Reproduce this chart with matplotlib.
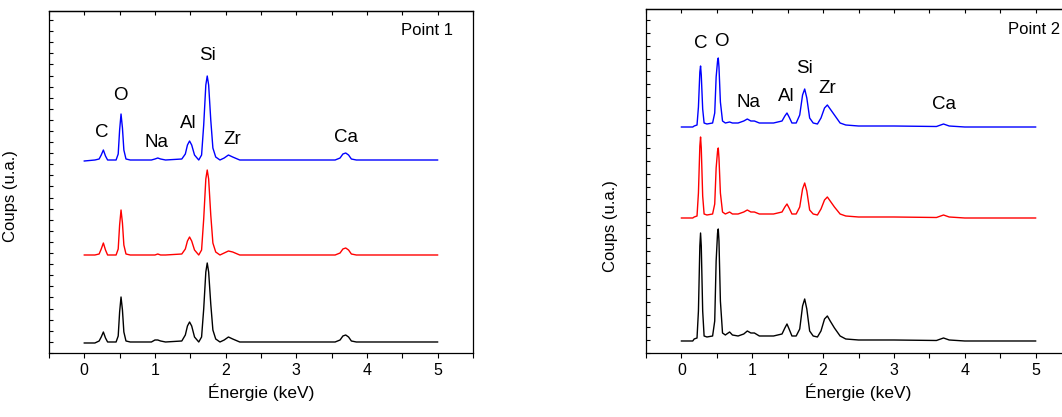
import matplotlib
matplotlib.use("Agg")
import matplotlib.pyplot as plt
from matplotlib.ticker import MultipleLocator, NullFormatter

plt.rcParams['font.family'] = ['Liberation Sans', 'DejaVu Sans']

# ---- Point 1 spectra (energy in keV, counts in arbitrary units above baseline)
e1 = [0.00, 0.15, 0.21, 0.24, 0.27, 0.30, 0.33, 0.45, 0.48, 0.50, 0.52, 0.54,
      0.56, 0.59, 0.65, 0.95, 1.00, 1.04, 1.08, 1.15, 1.38, 1.43, 1.46, 1.49,
      1.52, 1.56, 1.62, 1.66, 1.69, 1.72, 1.74, 1.76, 1.79, 1.82, 1.86, 1.92,
      1.98, 2.04, 2.10, 2.20, 3.55, 3.62, 3.66, 3.70, 3.74, 3.78, 3.85, 5.00]
p1_blue = [-1, 0, 1, 5, 10, 4, 0, 0, 6, 30, 46, 32,
           10, 1, 0, 0, 1, 2, 1, 0, 1, 6, 15, 19,
           15, 5, 0, 5, 35, 75, 84, 75, 40, 12, 3, 0,
           2, 5, 3, 0, 0, 2, 6, 7, 5, 1, 0, 0]
p1_red = [0, 0, 1, 6, 12, 5, 0, 0, 6, 30, 45, 32,
          10, 1, 0, 0, 0, 1, 0, 0, 1, 6, 14, 18,
          14, 5, 0, 5, 36, 76, 85, 76, 40, 12, 3, 0,
          2, 4, 3, 0, 0, 2, 6, 7, 5, 1, 0, 0]
p1_black = [-1, -1, 1, 5, 10, 4, 0, 0, 6, 30, 45, 32,
            10, 1, 0, 0, 2, 2, 1, 0, 1, 7, 16, 20,
            16, 5, 0, 5, 33, 70, 79, 70, 38, 12, 3, 0,
            2, 5, 3, 0, 0, 2, 6, 7, 5, 1, 0, 0]
p1_offsets = {'blue': 193, 'red': 98, 'black': 11}

# ---- Point 2 spectra
e2 = [0.00, 0.16, 0.18, 0.22, 0.24, 0.26, 0.27, 0.28, 0.30, 0.32, 0.36, 0.44,
      0.47, 0.49, 0.51, 0.52, 0.53, 0.55, 0.58, 0.62, 0.68, 0.72, 0.80, 0.88,
      0.93, 0.98, 1.03, 1.10, 1.30, 1.42, 1.46, 1.49, 1.52, 1.56, 1.62, 1.67,
      1.71, 1.74, 1.77, 1.81, 1.86, 1.92, 1.97, 2.02, 2.06, 2.10, 2.16, 2.24,
      2.32, 2.50, 3.00, 3.60, 3.70, 3.78, 4.00, 5.00]
p2_blue = [0, 0, 1, 2, 20, 55, 61, 52, 18, 4, 3, 4,
           14, 50, 66, 69, 60, 25, 6, 4, 5, 4, 4, 6,
           8, 6, 6, 4, 4, 6, 11, 14, 10, 4, 4, 12,
           32, 38, 29, 9, 4, 3, 9, 19, 22, 18, 12, 4,
           2, 1, 1, 0.5, 3, 1, 0, 0]
p2_red = [0, 0, 1, 2, 25, 72, 81, 70, 22, 4, 3, 4,
          14, 50, 67, 70, 60, 25, 6, 4, 6, 4, 4, 6,
          8, 6, 6, 4, 4, 6, 11, 14, 10, 4, 4, 11,
          29, 35, 27, 8, 4, 3, 9, 18, 21, 17, 11, 4,
          2, 1, 1, 0.5, 3, 1, 0, 0]
p2_black = [0, 0, 2, 3, 30, 95, 108, 95, 30, 5, 4, 5,
            20, 80, 108, 112, 100, 40, 8, 6, 9, 6, 5, 7,
            10, 8, 8, 5, 5, 7, 13, 17, 12, 5, 5, 12,
            35, 42, 32, 10, 5, 4, 10, 22, 25, 20, 13, 5,
            2, 1, 1, 0.5, 3, 1, 0, 0]
p2_offsets = {'blue': 226, 'red': 135, 'black': 12}

# ---- peak labels: (text, energy, y)
labels1 = [('C', 0.25, 221), ('O', 0.51, 258), ('Na', 1.02, 211),
           ('Al', 1.47, 230), ('Si', 1.75, 298), ('Zr', 2.09, 214),
           ('Ca', 3.70, 216)]
labels2 = [('C', 0.27, 310), ('O', 0.57, 312), ('Na', 0.95, 251),
           ('Al', 1.48, 257), ('Si', 1.74, 285), ('Zr', 2.06, 265),
           ('Ca', 3.70, 249)]


def style_axes(ax, ytop, ystep):
    ax.set_xlim(-0.5, 5.5)
    ax.set_ylim(0, ytop)
    ax.xaxis.set_major_locator(MultipleLocator(1))
    ax.xaxis.set_minor_locator(MultipleLocator(0.5))
    ax.yaxis.set_major_locator(MultipleLocator(ystep))
    ax.yaxis.set_major_formatter(NullFormatter())
    ax.tick_params(axis='x', which='both', direction='out', length=3.5,
                   width=0.8, labelsize=11.5, pad=4, top=False)
    ax.tick_params(axis='y', which='both', direction='in', length=3,
                   width=0.8, right=False)
    # top axis mirror ticks, pointing inward
    top = ax.secondary_xaxis('top')
    top.xaxis.set_major_locator(MultipleLocator(0.5))
    top.xaxis.set_major_formatter(NullFormatter())
    top.tick_params(direction='in', length=3, width=0.8)
    top.spines['top'].set_linewidth(0.9)
    for s in ax.spines.values():
        s.set_linewidth(0.9)
    ax.set_xlabel('Énergie (keV)', fontsize=12.5, labelpad=4)
    ax.set_ylabel('Coups (u.a.)', fontsize=12)


fig = plt.figure(figsize=(10.62, 4.17), dpi=100)
ax1 = fig.add_axes([0.0461, 0.1535, 0.3992, 0.8201])
ax2 = fig.add_axes([0.6083, 0.1535, 0.4002, 0.8249])

for color in ['blue', 'red', 'black']:
    series1 = {'blue': p1_blue, 'red': p1_red, 'black': p1_black}[color]
    series2 = {'blue': p2_blue, 'red': p2_red, 'black': p2_black}[color]
    ax1.plot(e1, [v + p1_offsets[color] for v in series1], color=color, lw=1.0)
    ax2.plot(e2, [v + p2_offsets[color] for v in series2], color=color, lw=1.0)

for txt, x, y in labels1:
    ax1.text(x, y, txt, ha='center', va='center', fontsize=13.5)
for txt, x, y in labels2:
    ax2.text(x, y, txt, ha='center', va='center', fontsize=13.5)

style_axes(ax1, 342, 11.1)
style_axes(ax2, 344, 12.8)

ax1.text(0.953, 0.944, 'Point 1', transform=ax1.transAxes, ha='right',
         va='center', fontsize=12)
ax2.text(0.974, 0.939, 'Point 2', transform=ax2.transAxes, ha='right',
         va='center', fontsize=12)

ax1.yaxis.set_label_coords(-0.073, 0.46)
ax2.yaxis.set_label_coords(-0.066, 0.37)

fig.savefig('out.png', dpi=100)
